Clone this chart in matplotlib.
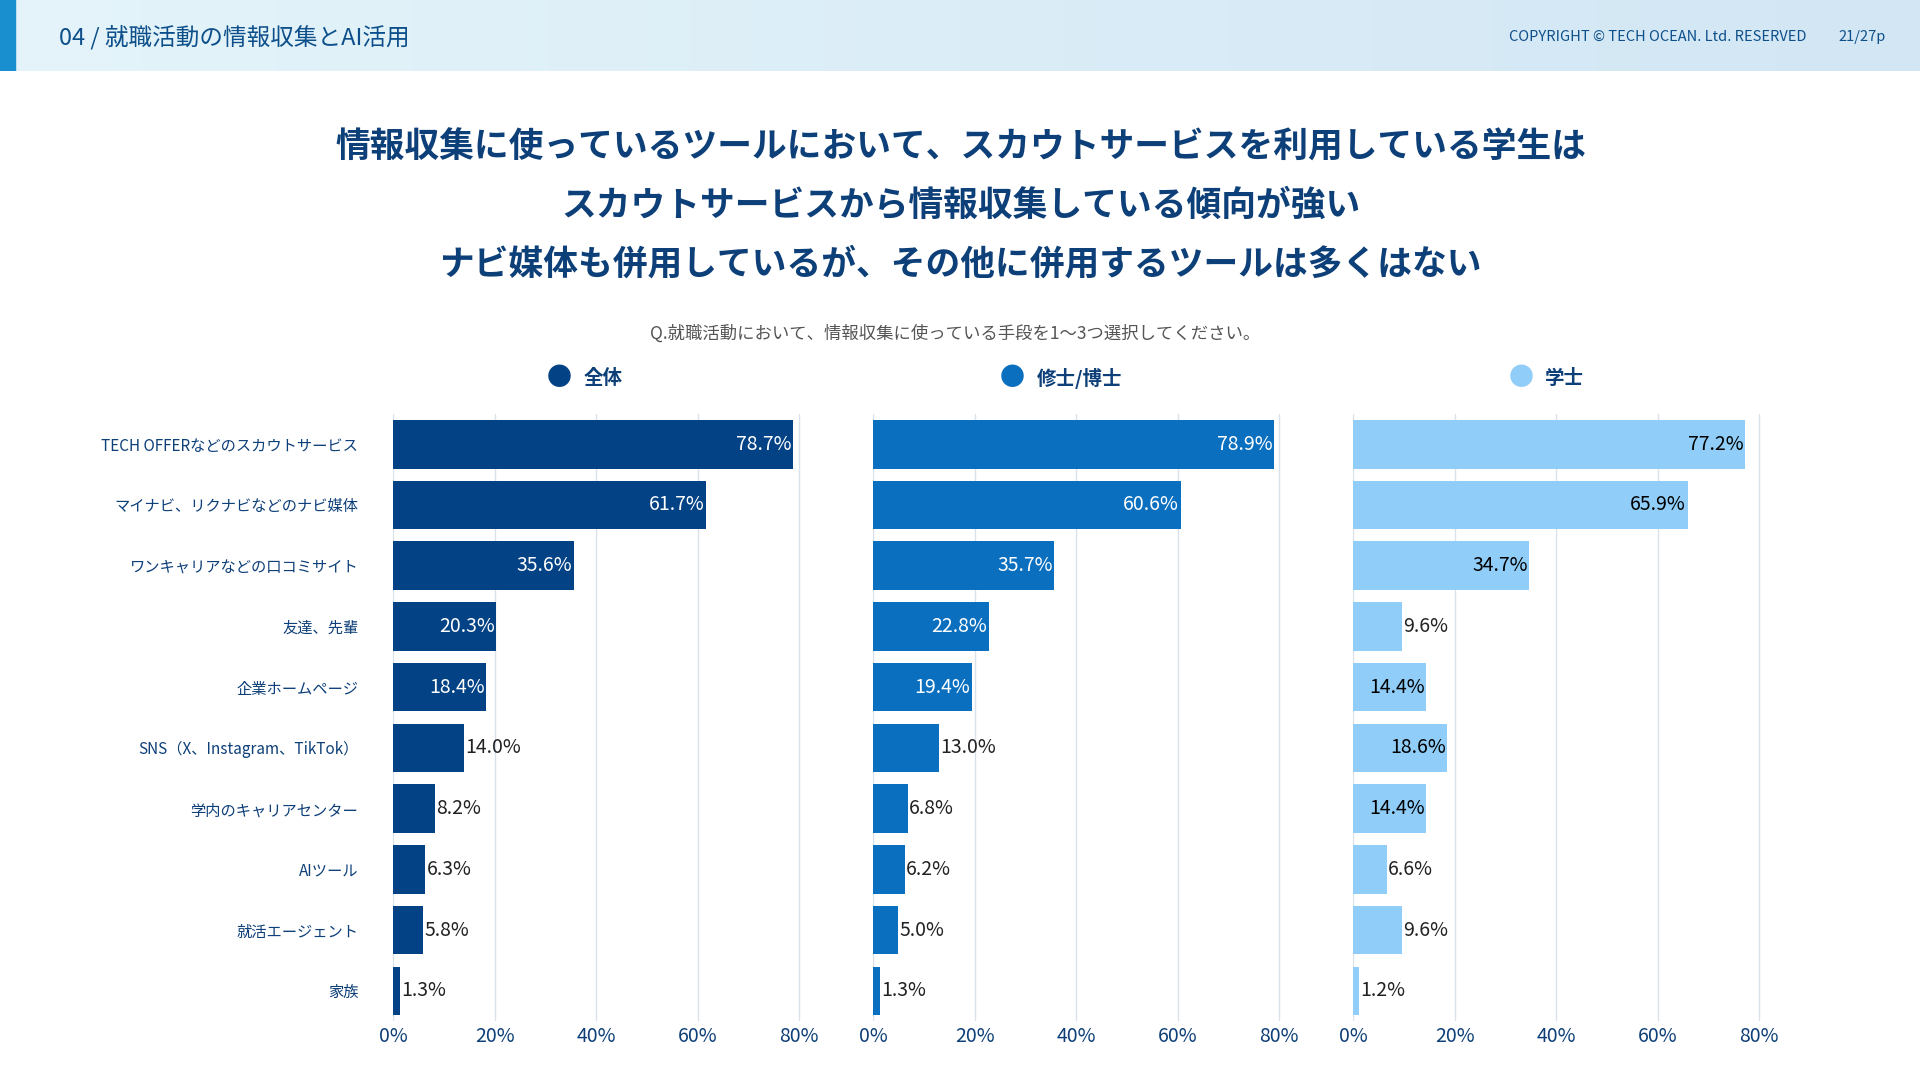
import matplotlib.pyplot as plt
import numpy as np
from matplotlib.patches import Rectangle

plt.rcParams['font.family'] = ['Noto Sans CJK JP', 'DejaVu Sans']

categories = ["TECH OFFERなどのスカウトサービス", "マイナビ、リクナビなどのナビ媒体", "ワンキャリアなどの口コミサイト",
              "友達、先輩", "企業ホームページ", "SNS（X、Instagram、TikTok）", "学内のキャリアセンター",
              "AIツール", "就活エージェント", "家族"]
series_names = ["全体", "修士/博士", "学士"]
all_vals = [78.7, 61.7, 35.6, 20.3, 18.4, 14.0, 8.2, 6.3, 5.8, 1.3]
master_vals = [78.9, 60.6, 35.7, 22.8, 19.4, 13.0, 6.8, 6.2, 5.0, 1.3]
bachelor_vals = [77.2, 65.9, 34.7, 9.6, 14.4, 18.6, 14.4, 6.6, 9.6, 1.2]
colors = ["#034285", "#0a6fbf", "#90cdf8"]

fig = plt.figure(figsize=(19.2, 10.8), dpi=100)
W, H = 1568, 882

# ヘッダー
hdr = fig.add_axes([0, 1 - 58 / H, 1, 58 / H])
grad = np.linspace(0, 1, 256).reshape(1, -1)
from matplotlib.colors import LinearSegmentedColormap
cmap = LinearSegmentedColormap.from_list("h", ["#e4f4fa", "#d2e6f4"])
hdr.imshow(grad, aspect="auto", cmap=cmap, extent=[0, 1, 0, 1])
hdr.add_patch(Rectangle((0, 0), 12 / W, 1, color="#1a8fd0"))
hdr.set_xlim(0, 1); hdr.set_ylim(0, 1); hdr.axis("off")
hdr.text(48 / W, 0.48, "04 / 就職活動の情報収集とAI活用", color="#0d4f8a", fontsize=17, va="center")
hdr.text(1475 / W, 0.48, "COPYRIGHT © TECH OCEAN. Ltd. RESERVED", color="#0d4f8a", fontsize=10.5, va="center", ha="right")
hdr.text(1540 / W, 0.48, "21/27p", color="#0d4f8a", fontsize=10.5, va="center", ha="right")

title = ["情報収集に使っているツールにおいて、スカウトサービスを利用している学生は",
         "スカウトサービスから情報収集している傾向が強い",
         "ナビ媒体も併用しているが、その他に併用するツールは多くはない"]
for i, t in enumerate(title):
    fig.text(785 / W, 1 - (120 + 48 * i) / H, t, ha="center", va="center",
             fontsize=25, fontweight="bold", color="#0d3f78")
fig.text(780 / W, 1 - 272 / H, "Q.就職活動において、情報収集に使っている手段を1〜3つ選択してください。",
         ha="center", va="center", fontsize=12.5, color="#555555")

lefts = [321, 713, 1105]
legend_x = [457, 827, 1242]
vals_list = [all_vals, master_vals, bachelor_vals]
y = np.arange(len(categories))
ax_bottom = 1 - 834 / H
ax_top = 1 - 338 / H
for k in range(3):
    ax = fig.add_axes([lefts[k] / W, ax_bottom, 340 / W, ax_top - ax_bottom])
    vals = vals_list[k]
    ax.barh(y, vals, height=0.8, color=colors[k], zorder=2)
    ax.set_xlim(0, 82)
    ax.set_ylim(len(categories) - 0.5, -0.5)
    ax.set_xticks([0, 20, 40, 60, 80])
    ax.set_xticklabels(["0%", "20%", "40%", "60%", "80%"], fontsize=14, color="#0d3f78")
    ax.grid(axis="x", color="#d9e1ea", lw=1, zorder=0)
    for s in ax.spines.values():
        s.set_visible(False)
    ax.tick_params(length=0)
    if k == 0:
        ax.set_yticks(y)
        ax.set_yticklabels(categories, fontsize=11, color="#0d3f78")
        ax.tick_params(axis="y", pad=25)
    else:
        ax.set_yticks([])
    thr = 14 if k == 2 else 18
    for yi, v in zip(y, vals):
        if v >= thr:
            ax.text(v - 0.3, yi, f"{v}%", ha="right", va="center", fontsize=14,
                    color="black" if k == 2 else "white", zorder=3)
        else:
            ax.text(v + 0.3, yi, f"{v}%", ha="left", va="center", fontsize=14, color="#222222", zorder=3)
    fig.text(legend_x[k] / W, 1 - 309 / H, "●", color=colors[k], fontsize=18, ha="center", va="center")
    fig.text((legend_x[k] + 20) / W, 1 - 309 / H, series_names[k], color="#0d3f78", fontsize=14,
             ha="left", va="center", fontweight="bold")

fig.savefig("out.png", dpi=100)
